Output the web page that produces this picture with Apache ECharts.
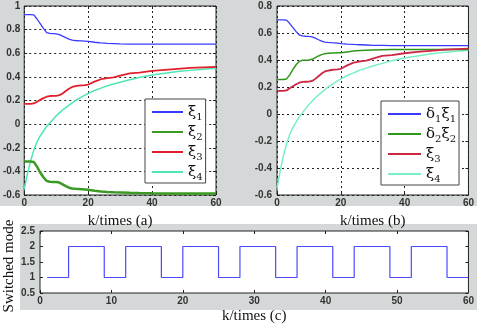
<!DOCTYPE html>
<html>
<head>
<meta charset="utf-8">
<script src="https://cdn.jsdelivr.net/npm/echarts@6/dist/echarts.min.js"></script>
<style>
  html, body { margin: 0; padding: 0; background: #ffffff; }
  #chart { width: 477px; height: 325px; }
</style>
</head>
<body>
<div id="chart"></div>
<script>
// sample instants (k) for the state trajectories in (a) and (b)
const kSteps = [0, 1, 2, 3, 4, 5, 6, 7, 8, 9, 10, 11, 12, 13, 14, 15, 16, 17, 18, 19, 20,
  22, 24, 25, 26, 28, 30, 33, 36, 40, 44, 48, 52, 56, 60];

// (a)
const xi1 = [0.927, 0.927, 0.927, 0.925, 0.89, 0.85, 0.81, 0.775, 0.768, 0.766, 0.764, 0.758, 0.745, 0.732, 0.72, 0.712, 0.708, 0.706, 0.705, 0.703, 0.70,
  0.693, 0.688, 0.686, 0.684, 0.682, 0.679, 0.678, 0.677, 0.677, 0.677, 0.677, 0.677, 0.677, 0.677];
const xi2 = [-0.316, -0.316, -0.316, -0.32, -0.36, -0.41, -0.45, -0.48, -0.488, -0.49, -0.49, -0.495, -0.51, -0.525, -0.538, -0.545, -0.548, -0.55, -0.552, -0.554, -0.556,
  -0.564, -0.57, -0.572, -0.574, -0.577, -0.579, -0.582, -0.584, -0.586, -0.587, -0.588, -0.588, -0.588, -0.588];
// shared by (a) and (b)
const xi3 = [0.172, 0.172, 0.172, 0.175, 0.19, 0.205, 0.22, 0.232, 0.238, 0.239, 0.24, 0.245, 0.26, 0.28, 0.30, 0.315, 0.322, 0.326, 0.328, 0.33, 0.335,
  0.36, 0.38, 0.385, 0.39, 0.395, 0.41, 0.43, 0.436, 0.45, 0.46, 0.468, 0.476, 0.481, 0.484];
const xi4 = [-0.55, -0.42, -0.31, -0.22, -0.15, -0.10, -0.06, -0.02, 0.01, 0.04, 0.07, 0.095, 0.12, 0.14, 0.16, 0.18, 0.20, 0.215, 0.23, 0.245, 0.26,
  0.285, 0.305, 0.315, 0.325, 0.34, 0.355, 0.375, 0.395, 0.415, 0.43, 0.445, 0.455, 0.465, 0.472];
// (b)
const d1xi1 = [0.697, 0.697, 0.697, 0.695, 0.67, 0.64, 0.61, 0.585, 0.578, 0.576, 0.575, 0.572, 0.562, 0.55, 0.54, 0.533, 0.53, 0.528, 0.527, 0.525, 0.522,
  0.518, 0.515, 0.514, 0.513, 0.511, 0.509, 0.508, 0.507, 0.506, 0.506, 0.506, 0.506, 0.506, 0.506];
const d2xi2 = [0.256, 0.256, 0.256, 0.26, 0.29, 0.33, 0.365, 0.39, 0.398, 0.399, 0.40, 0.405, 0.418, 0.43, 0.44, 0.447, 0.45, 0.451, 0.452, 0.453, 0.454,
  0.46, 0.466, 0.468, 0.47, 0.472, 0.474, 0.476, 0.477, 0.478, 0.478, 0.478, 0.478, 0.478, 0.478];

// (c) switching signal
const switchK = [1, 4, 9, 12, 17, 20, 25, 28, 33, 36, 41, 44, 49, 52, 57, 60];
const modeVal = [1, 2, 1, 2, 1, 2, 1, 2, 1, 2, 1, 2, 1, 2, 1, 1];

const legendA = ['{g|ξ}{s|1}', '{g|ξ}{s|2}', '{g|ξ}{s|3}', '{g|ξ}{s|4}'];
const legendB = ['{g|δ}{s|1}{g|ξ}{s|1}', '{g|δ}{s|2}{g|ξ}{s|2}', '{g|ξ}{s|3}', '{g|ξ}{s|4}'];

const pairs = (ys) => kSteps.map((k, i) => [k, ys[i]]);

const tickFont = { fontFamily: 'Liberation Sans', fontWeight: 'bold', fontSize: 10, color: '#333' };
const nameFont = { fontFamily: 'Liberation Serif', fontSize: 15, color: '#111' };
const dotted = { show: true, lineStyle: { color: '#222', type: [2, 3], width: 1 } };
const tick = { inside: true, length: 3, lineStyle: { color: '#222' } };

function bottomX(grid, interval, name, gap, grids) {
  return {
    gridIndex: grid, type: 'value', min: 0, max: 60, interval: interval, position: 'bottom',
    name: name, nameLocation: 'middle', nameGap: gap, nameTextStyle: nameFont,
    axisLine: { show: false, onZero: false }, axisTick: tick,
    axisLabel: Object.assign({ margin: 3 }, tickFont),
    splitLine: grids ? dotted : { show: false }
  };
}
function topX(grid, interval) {
  return {
    gridIndex: grid, type: 'value', min: 0, max: 60, interval: interval, position: 'top',
    axisLine: { show: false, onZero: false }, axisTick: tick,
    axisLabel: { show: false }, splitLine: { show: false }
  };
}
function leftY(grid, min, max, interval, margin, grids) {
  return {
    gridIndex: grid, type: 'value', min: min, max: max, interval: interval, position: 'left',
    axisLine: { show: false, onZero: false }, axisTick: tick,
    axisLabel: Object.assign({ margin: margin }, tickFont),
    splitLine: grids ? dotted : { show: false }
  };
}
function rightY(grid, min, max, interval) {
  return {
    gridIndex: grid, type: 'value', min: min, max: max, interval: interval, position: 'right',
    axisLine: { show: false, onZero: false }, axisTick: tick,
    axisLabel: { show: false }, splitLine: { show: false }
  };
}

const legendText = { fontFamily: 'DejaVu Serif', fontSize: 15, color: '#111', lineHeight: 20,
  rich: {
    g: { fontFamily: 'DejaVu Serif', fontSize: 15, lineHeight: 20, color: '#111' },
    s: { fontFamily: 'DejaVu Serif', fontSize: 10, lineHeight: 14, verticalAlign: 'bottom', color: '#111' }
  }
};

function line(name, data, color, width, xi, yi) {
  return {
    name: name, type: 'line', data: data, xAxisIndex: xi, yAxisIndex: yi,
    symbol: 'none', lineStyle: { color: color, width: width }, itemStyle: { color: color },
    animation: false
  };
}

function legendBox(left, top, names, labels, width) {
  return {
    orient: 'vertical', left: left, top: top, padding: [3, 3, 1, 7], itemGap: 0,
    icon: 'rect', itemWidth: width, itemHeight: 2,
    backgroundColor: '#fff', borderColor: '#444', borderWidth: 1,
    selectedMode: false, data: names,
    formatter: (n) => labels[Number(n[1]) - 1], textStyle: legendText
  };
}

const chart = echarts.init(document.getElementById('chart'), null, { renderer: 'canvas' });
chart.setOption({
  backgroundColor: '#ffffff',
  animation: false,
  graphic: [
    { type: 'rect', z: -10, shape: { x: 0, y: 0, width: 477, height: 206 }, style: { fill: '#d4d8d8' } },
    { type: 'rect', z: -10, shape: { x: 20, y: 224, width: 457, height: 86 }, style: { fill: '#d4d8d8' } },
    {
      type: 'text', x: 9, y: 266, rotation: Math.PI / 2,
      style: { text: 'Switched mode', fontFamily: 'Liberation Serif', fontSize: 15, fill: '#111',
        align: 'center', verticalAlign: 'middle' }
    }
  ],
  grid: [
    { left: 23, top: 6, width: 193, height: 189, show: true, backgroundColor: '#fff', borderColor: '#222', borderWidth: 1 },
    { left: 277, top: 6, width: 195, height: 189, show: true, backgroundColor: '#fff', borderColor: '#222', borderWidth: 1 },
    { left: 40, top: 231, width: 431, height: 67, show: true, backgroundColor: '#fff', borderColor: '#222', borderWidth: 1 }
  ],
  xAxis: [
    bottomX(0, 20, 'k/times (a)', 19, true), topX(0, 20),
    bottomX(1, 20, 'k/times (b)', 19, true), topX(1, 20),
    bottomX(2, 10, 'k/times (c)', 16, false), topX(2, 10)
  ],
  yAxis: [
    leftY(0, -0.6, 1, 0.2, 4, true), rightY(0, -0.6, 1, 0.2),
    leftY(1, -0.6, 0.8, 0.2, 5, true), rightY(1, -0.6, 0.8, 0.2),
    leftY(2, 0.5, 2.5, 0.5, 5, false), rightY(2, 0.5, 2.5, 0.5)
  ],
  legend: [
    legendBox(145, 99, ['a1', 'a2', 'a3', 'a4'], legendA, 31),
    legendBox(381, 101, ['b1', 'b2', 'b3', 'b4'], legendB, 33)
  ],
  series: [
    line('a4', pairs(xi4), '#4ee6b4', 1.5, 0, 0),
    line('a1', pairs(xi1), '#3a3aff', 1.3, 0, 0),
    line('a2', pairs(xi2), '#3a9a22', 2.5, 0, 0),
    line('a3', pairs(xi3), '#e0202c', 1.8, 0, 0),
    line('b4', pairs(xi4), '#78efc6', 1.5, 2, 2),
    line('b1', pairs(d1xi1), '#3a3aff', 1.3, 2, 2),
    line('b2', pairs(d2xi2), '#2f961c', 1.5, 2, 2),
    line('b3', pairs(xi3), '#cc2844', 1.8, 2, 2),
    Object.assign(line('mode', switchK.map((k, i) => [k, modeVal[i]]), '#4a4aff', 1.2, 4, 4), { step: 'end' })
  ]
});
</script>
</body>
</html>
